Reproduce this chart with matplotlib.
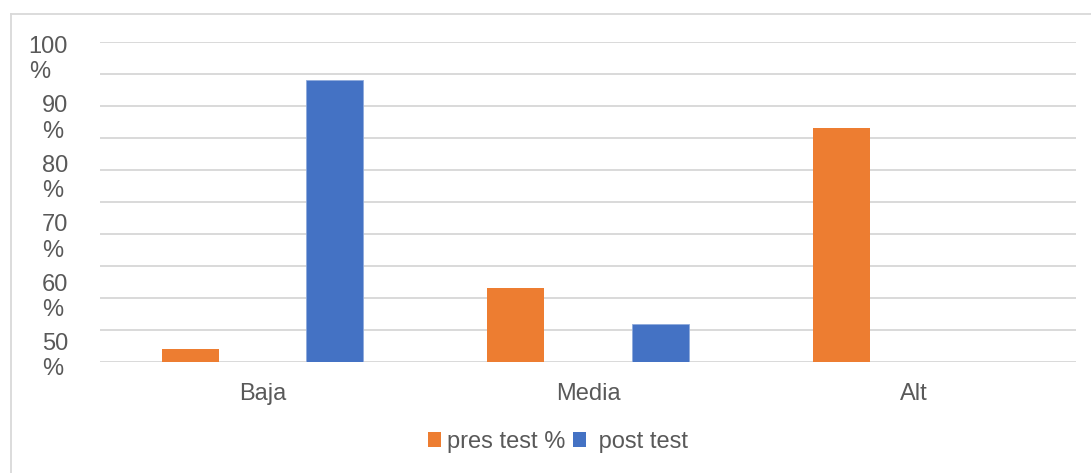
import matplotlib
matplotlib.use("Agg")
import matplotlib.pyplot as plt
from matplotlib.patches import Patch
from matplotlib.lines import Line2D
import numpy as np

# Data
categories = ["Baja", "Media", "Alt"]
pres_test = [4, 23, 73]
post_test = [88, 12, 0]
series_names = ["pres test %", " post test"]
y_tick_labels = ["100\n%", "90\n%", "80\n%", "70\n%", "60\n%", "50\n%"]

ORANGE = "#ED7D31"
BLUE = "#4472C4"
TEXT = "#595959"
GRID = "#D9D9D9"
FS = 17

plt.rcParams["font.family"] = ["Liberation Sans", "DejaVu Sans"]

fig = plt.figure(figsize=(10.91, 4.73), dpi=100)
ax = fig.add_axes([100 / 1091, 1 - 362 / 473, 976 / 1091, 320 / 473])

x = np.arange(len(categories))
width = 0.175
offset = 0.2215
ax.bar(x - offset, pres_test, width, color=ORANGE, zorder=3)
ax.bar(x + offset, post_test, width, color=BLUE, zorder=3,
       edgecolor="#8FAADC", linewidth=0.6)

ax.set_xlim(-0.5, len(categories) - 0.5)
ax.set_ylim(0, 100)

# horizontal gridlines
ax.set_yticks(np.arange(0, 101, 10))
ax.set_yticklabels([])
ax.grid(axis="y", which="major", color=GRID, linewidth=1.4, zorder=0)
ax.tick_params(axis="y", which="major", length=0)

# wrapped percentage labels
ax.set_yticks(np.linspace(95.8, 3.0, len(y_tick_labels)), minor=True)
ax.set_yticklabels(y_tick_labels, minor=True)
ax.tick_params(axis="y", which="minor", length=0, pad=23,
               labelsize=FS, labelcolor=TEXT)
for lbl in ax.get_yticklabels(minor=True):
    lbl.set_multialignment("left")
    lbl.set_linespacing(1.2)

ax.set_xticks(x)
ax.set_xticklabels(categories)
ax.tick_params(axis="x", length=0, pad=15, labelsize=FS, labelcolor=TEXT)

for s in ax.spines.values():
    s.set_visible(False)

# outer chart frame (top and left edges)
fig.add_artist(Line2D([11 / 1091, 11 / 1091], [0, 1 - 14 / 473],
                      transform=fig.transFigure, color=GRID, linewidth=1.3))
fig.add_artist(Line2D([11 / 1091, 1], [1 - 14 / 473, 1 - 14 / 473],
                      transform=fig.transFigure, color=GRID, linewidth=1.3))

handles = [Patch(facecolor=ORANGE), Patch(facecolor=BLUE)]
fig.legend(handles, series_names, loc="center", ncol=2,
           bbox_to_anchor=(558 / 1091, 1 - 442 / 473), frameon=False,
           fontsize=FS, labelcolor=TEXT, handlelength=0.56, handleheight=0.56,
           handletextpad=0.26, columnspacing=0.33)

fig.savefig("out.png", dpi=100)
